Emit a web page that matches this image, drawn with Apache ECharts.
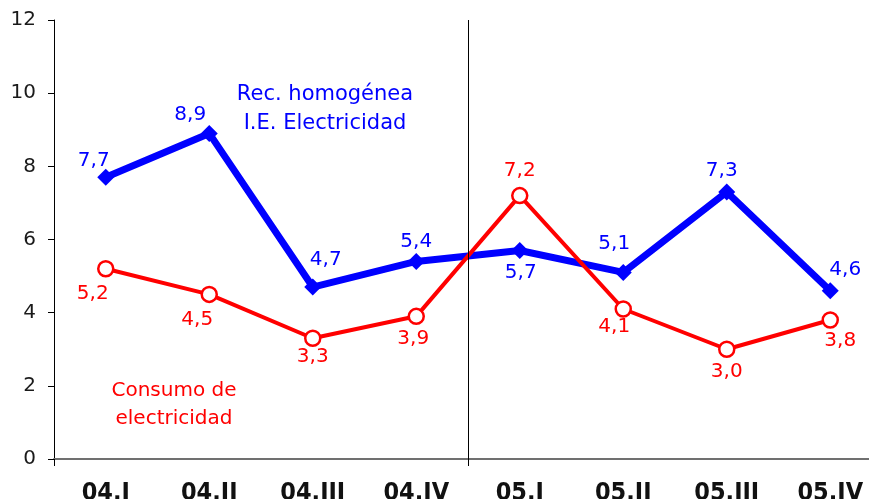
<!DOCTYPE html>
<html>
<head>
<meta charset="utf-8">
<script src="https://cdn.jsdelivr.net/npm/echarts@6/dist/echarts.min.js"></script>
<style>
  html, body { margin: 0; padding: 0; background: #ffffff; }
  #chart { width: 869px; height: 499px; }
</style>
</head>
<body>
<div id="chart"></div>
<script>
// Quarters shown along the bottom axis
const quarters = ['04.I', '04.II', '04.III', '04.IV', '05.I', '05.II', '05.III', '05.IV'];

// Year-on-year rates (%)
const recHomogenea = [7.7, 8.9, 4.7, 5.4, 5.7, 5.1, 7.3, 4.6];
const consumo = [5.2, 4.5, 3.3, 3.9, 7.2, 4.1, 3.0, 3.8];

// Value-axis ticks
const yTicks = [0, 2, 4, 6, 8, 10, 12];

// First quarter of 2005: a divider is drawn on its left edge
const yearBreak = 4;

// Where each value label sits relative to its point (px)
const blueLabelOffsets = [[-12, -17], [-19, -19], [13, -27], [0, -20], [1, 22], [-9, -29], [-5, -21], [15, -21]];
const redLabelOffsets = [[-13, 25], [-12, 25], [0, 19], [-3, 22], [0, -25], [-9, 18], [0, 23], [10, 21]];

const fmt = v => String(v.toFixed(1)).replace('.', ',');

function withLabels(values, offsets) {
  return values.map((v, i) => ({
    value: v,
    label: { offset: offsets[i] }
  }));
}

const chart = echarts.init(document.getElementById('chart'), null, { renderer: 'canvas' });

const labelFont = {
  fontFamily: 'DejaVu Sans',
  fontSize: 20
};

chart.setOption({
  animation: false,
  backgroundColor: '#ffffff',
  // the plot runs a little past the right edge of the page
  grid: { left: 54, width: 828, top: 20, bottom: 40, containLabel: false, outerBoundsMode: 'none' },
  xAxis: [
    {
      type: 'category',
      data: quarters,
      boundaryGap: true,
      axisLine: { show: true, lineStyle: { color: '#707070', width: 2 } },
      axisTick: {
        show: true,
        length: 7,
        interval: (i) => i === 0 || i === yearBreak,
        lineStyle: { color: '#000000', width: 1 }
      },
      splitLine: { show: false },
      axisLabel: {
        interval: 0,
        margin: 22,
        color: '#111111',
        fontFamily: 'DejaVu Sans Condensed',
        fontWeight: 'bold',
        fontSize: 25,
        lineHeight: 25
      }
    },
    {
      // boundary positions of the categories, used for the year divider
      type: 'value',
      min: 0,
      max: quarters.length,
      show: false
    }
  ],
  yAxis: {
    type: 'value',
    min: yTicks[0],
    max: yTicks[yTicks.length - 1],
    interval: yTicks[1] - yTicks[0],
    axisLine: { show: true, lineStyle: { color: '#000000', width: 1 } },
    axisTick: { show: true, length: 6, lineStyle: { color: '#000000', width: 1 } },
    splitLine: { show: false },
    axisLabel: {
      margin: 18,
      color: '#1a1a1a',
      fontFamily: 'DejaVu Sans',
      fontSize: 20
    }
  },
  title: [
    {
      text: 'Rec. homogénea\nI.E. Electricidad',
      left: 325,
      top: 80,
      padding: 0,
      textAlign: 'center',
      textStyle: { color: '#0000ff', fontFamily: 'DejaVu Sans', fontSize: 21, fontWeight: 'normal', lineHeight: 29 }
    },
    {
      text: 'Consumo de\nelectricidad',
      left: 174,
      top: 377,
      padding: 0,
      textAlign: 'center',
      textStyle: { color: '#ff0000', fontFamily: 'DejaVu Sans', fontSize: 20, fontWeight: 'normal', lineHeight: 28 }
    }
  ],
  series: [
    {
      name: 'divider',
      type: 'line',
      xAxisIndex: 1,
      data: [],
      silent: true,
      markLine: {
        silent: true,
        symbol: 'none',
        label: { show: false },
        lineStyle: { color: '#000000', width: 1, type: 'solid' },
        data: [{ xAxis: yearBreak }]
      }
    },
    {
      name: 'Rec. homogénea I.E. Electricidad',
      type: 'line',
      data: withLabels(recHomogenea, blueLabelOffsets),
      z: 2,
      lineStyle: { color: '#0000ff', width: 7 },
      itemStyle: { color: '#0000ff', borderColor: '#0000ff', borderWidth: 0 },
      symbol: 'diamond',
      symbolSize: 17,
      showAllSymbol: true,
      label: {
        show: true,
        position: 'inside',
        align: 'center',
        verticalAlign: 'middle',
        color: '#0000ff',
        ...labelFont,
        formatter: p => fmt(p.value)
      }
    },
    {
      name: 'Consumo de electricidad',
      type: 'line',
      data: withLabels(consumo, redLabelOffsets),
      z: 3,
      lineStyle: { color: '#ff0000', width: 4 },
      itemStyle: { color: '#ffffff', borderColor: '#ff0000', borderWidth: 2.5 },
      symbol: 'circle',
      symbolSize: 15,
      showAllSymbol: true,
      label: {
        show: true,
        position: 'inside',
        align: 'center',
        verticalAlign: 'middle',
        color: '#ff0000',
        ...labelFont,
        formatter: p => fmt(p.value)
      }
    }
  ]
});
</script>
</body>
</html>
